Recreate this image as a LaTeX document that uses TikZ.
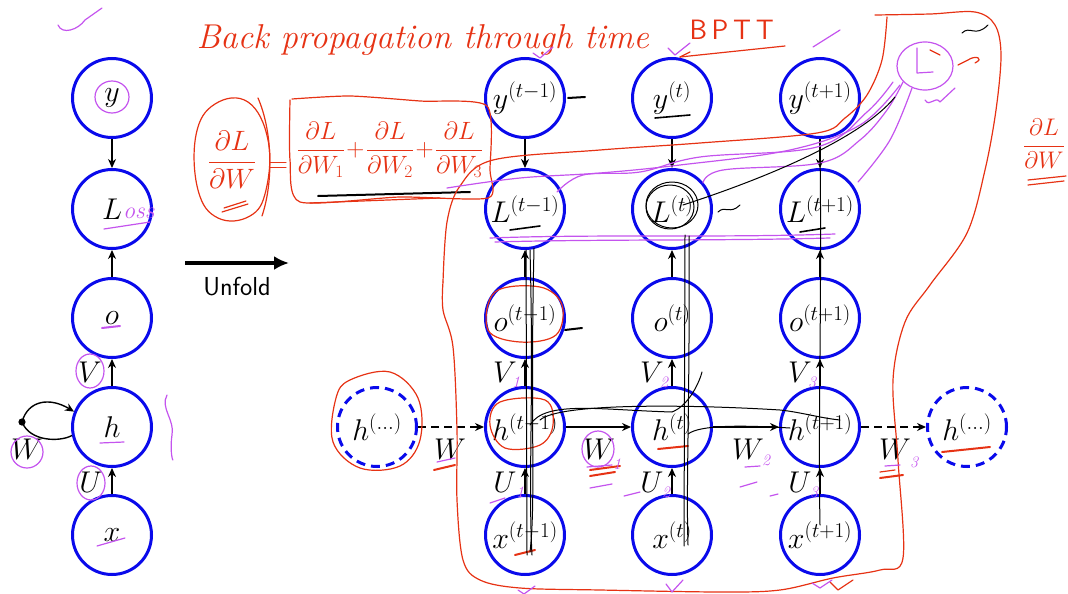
\RequirePackage{fix-cm}
\documentclass[tikz,border=0pt]{standalone}
\usetikzlibrary{arrows.meta}
\definecolor{nodeblue}{RGB}{10,10,235}
\definecolor{redpen}{RGB}{230,50,20}
\definecolor{violetpen}{RGB}{196,84,238}
\newcommand{\nodefont}{\fontsize{30}{34}\selectfont}
\newcommand{\penfont}{\fontsize{28}{32}\selectfont}
\newcommand{\sumfont}{\fontsize{25}{30}\selectfont}
\newcommand{\digitfont}{\fontsize{16}{19}\selectfont\itshape}
\begin{document}
\begin{tikzpicture}[x=1pt,y=-1pt,
  unit/.style={circle,draw=nodeblue,line width=3pt,minimum size=79pt,inner sep=0pt,font=\nodefont},
  ghost/.style={unit,dash pattern=on 9pt off 6pt},
  flow/.style={line width=1.4pt,-{Stealth[length=9pt,width=8pt]}},
  ghostflow/.style={flow,dash pattern=on 8pt off 5pt},
  lbl/.style={font=\nodefont,inner sep=0pt},
  ink/.style={redpen,line width=1.2pt,line cap=round,line join=round},
  vink/.style={violetpen,line width=1.2pt,line cap=round,line join=round},
  kink/.style={black,line width=1pt,line cap=round,line join=round},
  digit/.style={violetpen,font=\digitfont,inner sep=0pt}]

\useasboundingbox (0,0) rectangle (1068,594);
\clip (0,0) rectangle (1068,594);

% ---------- folded network ----------
\node[unit] (ly) at (112,98)  {$y$};
\node[unit] (lL) at (112,209) {$L$};
\node[unit] (lo) at (112,318) {$o$};
\node[unit] (lh) at (112,427) {$h$};
\node[unit] (lx) at (112,535) {$x$};
\draw[flow] (ly) -- (lL);
\draw[flow] (lo) -- (lL);
\draw[flow] (lh) -- (lo);
\draw[flow] (lx) -- (lh);
\node[lbl] (lV) at (90,372) {$V$};
\node[lbl] (lU) at (91,482) {$U$};
\coordinate (loopdot) at (22,422);
\fill (loopdot) circle (3.6pt);
\draw[line width=1.4pt] (lh.192) .. controls (60,442) and (30,442) .. (loopdot);
\draw[flow] (loopdot) .. controls (28,400) and (50,397) .. (lh.158);
\node[lbl] (lW) at (27,449) {$W$};

% ---------- unfold arrow ----------
\coordinate (ufa) at (185,263);
\coordinate (ufb) at (289,263);
\draw[line width=4pt,-{Latex[length=15pt,width=14pt]}] (ufa) -- (ufb);
\node[font=\fontsize{26}{30}\selectfont\sffamily] (uft) at (237,287) {Unfold};

% ---------- unfolded network ----------
\foreach \c/\X/\s in {1/525/{t-1},2/672/{t},3/820/{t+1}} {
  \node[unit] (y\c) at (\X,98)  {$y^{(\s)}$};
  \node[unit] (L\c) at (\X,209) {$L^{(\s)}$};
  \node[unit] (o\c) at (\X,318) {$o^{(\s)}$};
  \node[unit] (h\c) at (\X,427) {$h^{(\s)}$};
  \node[unit] (x\c) at (\X,535) {$x^{(\s)}$};
  \draw[flow] (y\c) -- (L\c);
  \draw[flow] (o\c) -- (L\c);
  \draw[flow] (h\c) -- (o\c);
  \draw[flow] (x\c) -- (h\c);
  \node[lbl] (V\c) at (\X-20,372) {$V$};
  \node[lbl] (U\c) at (\X-20,482) {$U$};
}
\node[ghost] (hl) at (377,427) {$h^{(\dots)}$};
\node[ghost] (hr) at (967,427) {$h^{(\dots)}$};
\draw[ghostflow] (hl) -- (h1);
\draw[flow] (h1) -- (h2);
\draw[flow] (h2) -- (h3);
\draw[ghostflow] (h3) -- (hr);
\node[lbl] (W0) at (450,449) {$W$};
\node[lbl] (W1) at (599,449) {$W$};
\node[lbl] (W2) at (748,449) {$W$};
\node[lbl] (W3) at (895,449) {$W$};

% ---------- red pen: title and gradient sum ----------
\node[redpen,font=\fontsize{34.5}{38}\selectfont\itshape,anchor=west] (title) at (193,40) {Back propagation through time};
\node[redpen,font=\fontsize{28}{32}\selectfont\sffamily,anchor=west] (bptt) at (686,30) {B\,P\,T\,T};
\draw[ink] (680,57) -- (785,46);
\draw[ink] (680,57) -- (690,52);

\node[redpen,font=\penfont] (dLdW) at (232,160) {$\displaystyle\frac{\partial L}{\partial W}$};
\draw[ink] plot[smooth cycle,tension=0.7] coordinates {(215,104) (248,102) (268,140) (266,190) (250,216) (218,218) (198,190) (196,135)};
\draw[ink] (258,98) .. controls (272,130) and (274,180) .. (262,216);
\node[redpen,font=\penfont] (eq) at (278,168) {$=$};
\node[redpen,font=\sumfont] (dsum) at (390,150) {$\displaystyle\frac{\partial L}{\partial W_1}\!+\!\frac{\partial L}{\partial W_2}\!+\!\frac{\partial L}{\partial W_3}$};
\draw[ink] plot[smooth,tension=0.4] coordinates {(292,99) (350,96) (420,101) (487,106) (490,170) (488,198) (400,197) (300,202) (290,160) (290,100)};
\draw[ink] (222,212) -- (248,204);
\draw[ink] (224,208) -- (246,201);
\draw[kink,line width=2pt] (318,196) -- (470,192);
\draw[ink] (310,203) -- (440,198);

\node[redpen,font=\fontsize{24}{28}\selectfont,anchor=east,inner sep=1pt] (dLdWr) at (1066,144) {$\displaystyle\frac{\partial L}{\partial W}$};
\draw[ink] (1028,180) -- (1066,176);
\draw[ink] (1028,185) -- (1064,181);

% ---------- red pen: region of the unrolled steps ----------
\draw[ink] plot[smooth,tension=0.55] coordinates {
  (443,282) (447,222) (460,186) (493,160) (600,150) (700,143) (817,133)
  (845,118) (867,95) (882,60) (887,17)};
\draw[ink] plot[smooth,tension=0.55] coordinates {
  (875,15) (930,14) (975,12) (995,25) (1001,55) (996,110) (985,170) (967,233)
  (930,285) (905,322) (893,380) (898,460) (903,558) (880,570) (833,578)
  (780,590) (720,592) (600,590) (520,588) (480,580) (463,560) (457,500)
  (457,430) (453,347) (443,310) (443,282)};
\draw[ink] plot[smooth cycle,tension=0.6] coordinates {(350,380) (390,372) (418,398) (420,440) (400,466) (360,468) (333,442) (336,398)};
\draw[ink] plot[smooth cycle,tension=0.6] coordinates {(495,292) (540,287) (562,305) (556,335) (520,342) (488,330)};
\draw[ink] plot[smooth cycle,tension=0.6] coordinates {(500,402) (545,400) (553,425) (540,445) (505,448) (490,425)};
\draw[ink,line width=2pt] (658,449) -- (688,446);
\draw[ink,line width=2pt] (515,555) -- (535,550);
\draw[ink,line width=2pt] (942,452) -- (990,447);
\draw[ink,line width=2pt] (434,470) -- (455,465);
\draw[ink,line width=2pt] (590,470) -- (620,466);
\draw[ink,line width=2pt] (590,476) -- (615,472);
\draw[ink,line width=2pt] (880,478) -- (903,475);
\draw[ink] (880,472) -- (895,470);
\draw[ink] (830,582) -- (838,590) -- (853,580);
\draw[ink] (930,50) -- (940,55);
\draw[ink] (958,65) -- (968,60) .. controls (975,55) and (985,58) .. (975,63);

% ---------- violet pen ----------
\draw[vink] (925,66) ellipse (28 and 24);
\draw[vink] (917,48) -- (917,73) -- (933,72);
\draw[vink] (925,100) .. controls (930,108) and (935,95) .. (940,102) -- (955,88);
\draw[vink] plot[smooth,tension=0.6] coordinates {(557,192) (583,175) (640,172) (700,157) (817,147) (867,112) (893,82)};
\draw[vink] plot[smooth,tension=0.6] coordinates {(447,188) (520,178) (600,173) (680,165) (790,150) (860,125) (900,85)};
\draw[vink] plot[smooth,tension=0.6] coordinates {(703,183) (723,170) (820,163) (860,140) (887,110) (903,82)};
\draw[vink] plot[smooth,tension=0.6] coordinates {(858,182) (890,140) (912,88)};
\draw[vink] (490,238) .. controls (600,234) and (720,238) .. (835,234);
\draw[vink] (495,242) .. controls (600,239) and (720,241) .. (830,238);
\draw[vink] (533,53) -- (540,58) -- (553,47);
\draw[vink] (668,48) -- (675,55) -- (690,43);
\draw[vink] (813,47) -- (840,30);
\draw[vink] (518,590) -- (524,594) -- (535,586);
\draw[vink] (666,584) -- (672,592) -- (683,580);
\draw[vink] (812,583) -- (820,588) -- (832,580);
% loss node notes
\draw[vink] (112,97) ellipse (17 and 16);
\node[violetpen,font=\fontsize{24}{28}\selectfont\itshape,anchor=west,inner sep=0pt] (oss) at (123,213) {oss};
\draw[vink] (104,229) -- (150,222);
\draw[vink,line width=2pt] (102,328) -- (120,326);
\draw[vink] (100,443) -- (124,442);
\draw[vink] (97,546) -- (125,538);
\draw[vink] (90,371) ellipse (14 and 17);
\draw[vink] (91,483) ellipse (14 and 17);
\draw[vink] (27,452) ellipse (16 and 16);
\draw[vink] (167,395) .. controls (160,408) and (175,420) .. (172,435) .. controls (170,448) and (172,460) .. (173,460);
\draw[vink] (58,25) .. controls (62,35) and (78,30) .. (85,20) -- (102,8);
% subscripts and marks on the weight labels
\node[digit] (sV1) at (516,382) {1};
\node[digit] (sV2) at (664,382) {2};
\node[digit] (sV3) at (812,382) {3};
\node[digit] (sU1) at (520,492) {1};
\node[digit] (sU2) at (666,492) {2};
\node[digit] (sU3) at (814,492) {3};
\node[digit] (sW1) at (617,464) {1};
\node[digit] (sW2) at (766,460) {2};
\node[digit] (sW3) at (914,462) {3};
\draw[vink] (598,449) ellipse (16 and 18);
\draw[vink] (587,467) -- (612,465);
\draw[vink] (590,488) -- (612,484);
\draw[vink] (624,496) -- (640,492);
\draw[vink] (745,467) -- (760,466);
\draw[vink] (740,487) -- (757,482);
\draw[vink] (770,496) -- (778,494);
\draw[vink] (885,466) -- (900,465);
\draw[vink] (437,462) -- (455,458);
\draw[vink] (490,503) -- (505,498);

% ---------- black pen ----------
\draw[kink] (672,205) ellipse (26 and 23);
\draw[kink] (670,207) ellipse (24 and 22);
\draw[kink] (683,205) .. controls (760,180) and (860,140) .. (895,97);
\draw[kink,line width=2pt] (568,98) -- (585,97);
\draw[kink,line width=2pt] (565,330) -- (582,328);
\draw[kink,line width=1.6pt] (655,118) -- (690,115);
\draw[kink,line width=1.6pt] (510,230) -- (540,226);
\draw[kink,line width=1.6pt] (800,232) -- (825,228);
\draw[kink] (718,212) .. controls (725,205) and (730,215) .. (740,205);
\draw[kink] (962,33) .. controls (970,25) and (975,38) .. (988,25);
\draw[kink] (526,250) -- (527,555);
\draw[kink] (530,250) .. controls (534,400) and (528,480) .. (532,555);
\draw[kink] (534,248) .. controls (530,420) and (536,500) .. (530,552);
\draw[kink] (685,235) -- (684,546);
\draw[kink] (689,236) .. controls (690,400) and (686,480) .. (688,545);
\draw[kink] (820,150) .. controls (822,300) and (818,420) .. (820,525);
\draw[kink] (530,425) .. controls (545,400) and (600,410) .. (672,412) .. controls (690,405) and (700,380) .. (702,372);
\draw[kink] (540,420) .. controls (560,402) and (700,405) .. (780,410) .. controls (800,412) and (820,418) .. (840,420);
\draw[kink] (688,434) .. controls (700,425) and (740,425) .. (790,428);
\end{tikzpicture}
\end{document}
